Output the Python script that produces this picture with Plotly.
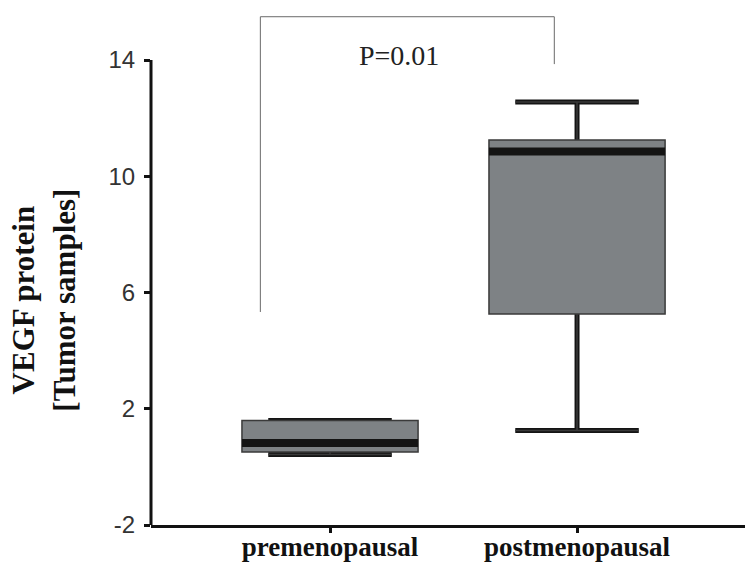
import plotly.graph_objects as go

# ---- data ----
categories = ["premenopausal", "postmenopausal"]
positions = [0, 1]
mins = [0.43, 1.25]
q1s = [0.51, 5.26]
medians = [0.82, 10.85]
q3s = [1.60, 11.25]
maxs = [1.60, 12.56]
y_ticks = [-2, 2, 6, 10, 14]
y_tick_labels = ["-2", "2", "6", "10", "14"]
p_text = "P=0.01"
bracket_x = [-0.282, 0.908]
bracket_y_left, bracket_y_right, bracket_top = 5.33, 13.86, 15.49

box_w = 0.713
cap_w = 0.50
fill = "#7e8285"
dark = "#141414"

fig = go.Figure()
fig.add_trace(go.Box(
    x=positions, q1=q1s, median=medians, q3=q3s,
    lowerfence=mins, upperfence=maxs,
    width=box_w, whiskerwidth=cap_w / box_w,
    fillcolor=fill, line=dict(color="#3a3a3a", width=1.5),
    boxpoints=False, hoverinfo="skip", showlegend=False,
))

shapes = []
for x, lo, a, m, b, hi in zip(positions, mins, q1s, medians, q3s, maxs):
    ln = dict(color=dark, width=5)
    shapes.append(dict(type="line", xref="x", yref="y", x0=x, x1=x, y0=b, y1=hi, line=ln, layer="below"))
    shapes.append(dict(type="line", xref="x", yref="y", x0=x, x1=x, y0=lo, y1=a, line=ln, layer="below"))
    shapes.append(dict(type="line", xref="x", yref="y", x0=x - cap_w / 2, x1=x + cap_w / 2, y0=hi, y1=hi, line=ln, layer="below"))
    shapes.append(dict(type="line", xref="x", yref="y", x0=x - cap_w / 2, x1=x + cap_w / 2, y0=lo, y1=lo, line=ln, layer="below"))
    shapes.append(dict(type="line", xref="x", yref="y", x0=x - box_w / 2, x1=x + box_w / 2, y0=m, y1=m,
                       line=dict(color=dark, width=8), layer="above"))

# y axis line (only from -2 to 14)
shapes.append(dict(type="line", xref="paper", yref="y", x0=0, x1=0, y0=y_ticks[0], y1=y_ticks[-1],
                   line=dict(color="#111111", width=3)))
# significance bracket
br = dict(color="#6a6a6a", width=1)
shapes.append(dict(type="line", xref="x", yref="y", x0=bracket_x[0], x1=bracket_x[0], y0=bracket_y_left, y1=bracket_top, line=br))
shapes.append(dict(type="line", xref="x", yref="y", x0=bracket_x[0], x1=bracket_x[1], y0=bracket_top, y1=bracket_top, line=br))
shapes.append(dict(type="line", xref="x", yref="y", x0=bracket_x[1], x1=bracket_x[1], y0=bracket_y_right, y1=bracket_top, line=br))

annotations = [
    dict(text=p_text, xref="x", yref="y", x=0.279, y=14.14, showarrow=False,
         xanchor="center", yanchor="middle",
         font=dict(family="Liberation Serif, Times New Roman, serif", size=28, color="#222222")),
    dict(text="<b>VEGF protein</b><br><b>[Tumor samples]</b>", xref="paper", yref="paper",
         x=-0.181, y=0.44, showarrow=False, textangle=-90, xanchor="center", yanchor="middle",
         font=dict(family="Liberation Serif, Times New Roman, serif", size=31, color="#111111")),
]

fig.update_layout(
    width=745, height=565,
    margin=dict(l=151, r=0, t=14, b=40, autoexpand=False),
    paper_bgcolor="white", plot_bgcolor="white",
    shapes=shapes, annotations=annotations,
    showlegend=False,
)
fig.update_xaxes(
    range=[-0.7247, 1.680], tickvals=positions, ticktext=categories,
    showgrid=False, zeroline=False, automargin=False,
    showline=True, linecolor="#111111", linewidth=3,
    ticks="outside", ticklen=5, tickwidth=3, tickcolor="#111111",
    tickfont=dict(family="Liberation Serif, Times New Roman, serif", size=27, color="#111111", weight="bold"),
    ticklabelstandoff=-9,
)
fig.update_yaxes(
    range=[-2, 15.584], tickvals=y_ticks, ticktext=y_tick_labels,
    showgrid=False, zeroline=False, showline=False, automargin=False,
    ticks="outside", ticklen=6, tickwidth=3, tickcolor="#111111",
    tickfont=dict(family="Liberation Sans, Arial, sans-serif", size=24, color="#333333"),
    ticklabelstandoff=4,
)

fig.write_html("out.html")
